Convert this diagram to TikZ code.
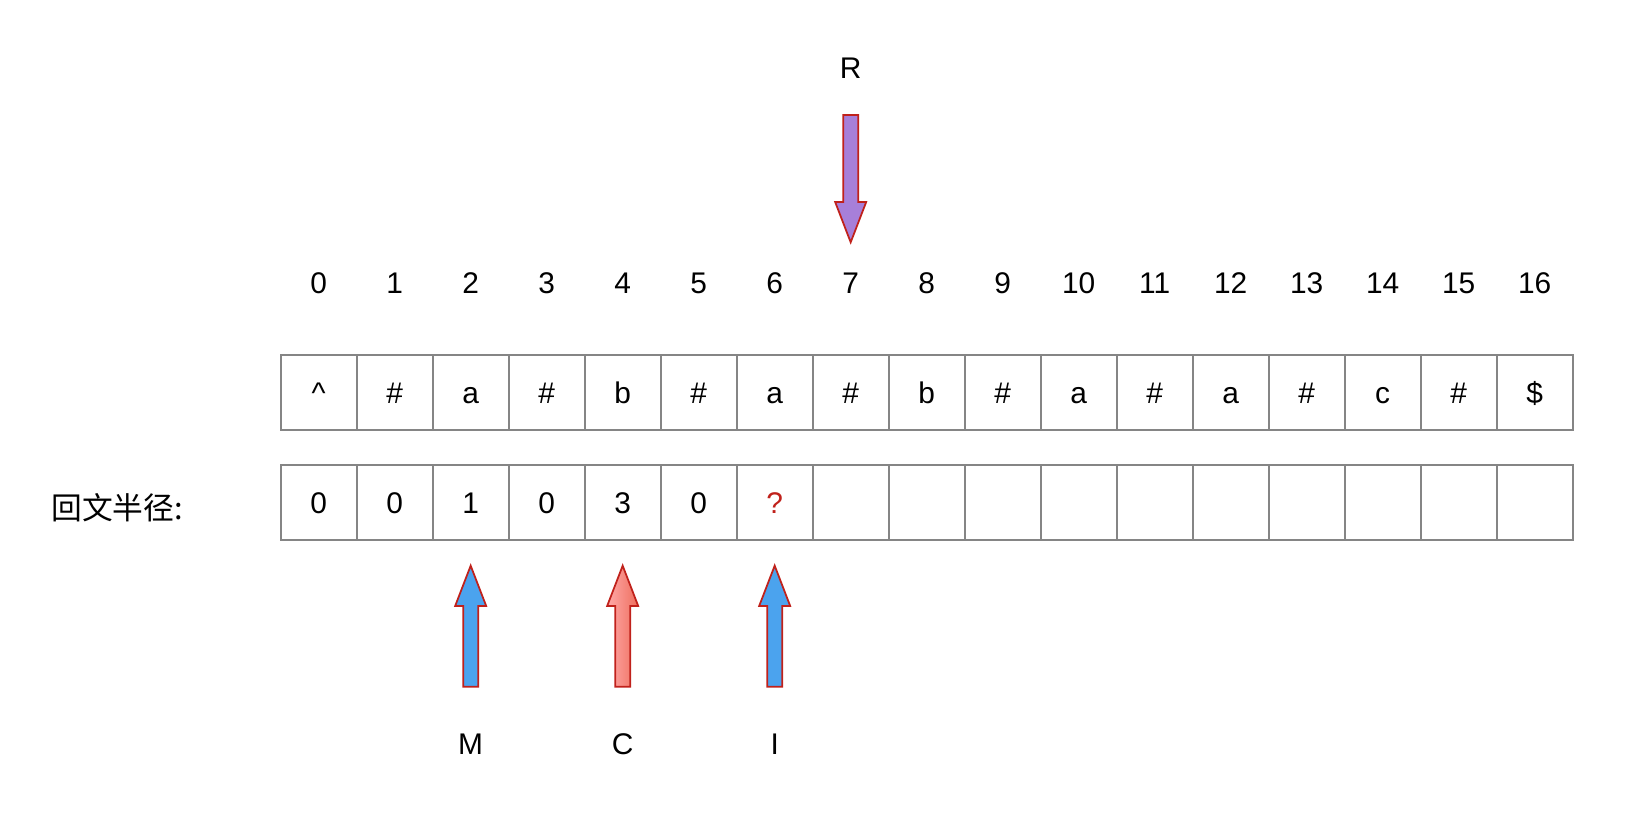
\documentclass[tikz,border=0pt]{standalone}
\usepackage{fontspec}
\setmainfont{Liberation Sans}
\newfontfamily\cjk{Noto Sans CJK SC}
\usetikzlibrary{positioning}
\definecolor{cellgray}{HTML}{858585}
\definecolor{arrowred}{HTML}{C0211B}
\definecolor{ptrblue}{HTML}{4BA3EE}
\definecolor{ptrpurple}{HTML}{A77FD9}
\tikzset{
  cell/.style={draw=cellgray, line width=1.2pt, minimum width=1.52cm, minimum height=1.5cm, inner sep=0pt},
  lbl/.style={font=\fontsize{17}{20}\selectfont, text height=12.2pt, text depth=0pt},
  pics/blockarrow/.style={code={
    \path[pic actions] (-0.099,-#1) -- (0.099,-#1) -- (0.099,-0.53) -- (0.204,-0.53)
      -- (0,0) -- (-0.204,-0.53) -- (-0.099,-0.53) -- cycle;
  }}
}

\begin{document}
\begin{tikzpicture}[x=1.52cm,y=1.52cm]
\useasboundingbox (-3.693,4.668) rectangle (17.833,-6.2);
% string with sentinels, and its indices
\foreach \ch [count=\i from 0] in {\^{},\#,a,\#,b,\#,a,\#,b,\#,a,\#,a,\#,c,\#,\$}{
  \node[lbl] (idx\i) at (\i+0.5,0.947) {\i};
  \node[cell,lbl] (t\i) at (\i+0.5,-0.494) {\ch};
}
% radius row
\foreach \p [count=\i from 0] in {0,0,1,0,3,0,{\textcolor{arrowred}{?}},,,,,,,,,,}{
  \node[cell,lbl] (r\i) at (\i+0.5,-1.949) {\p};
}
\node[anchor=west,font=\cjk\fontsize{17.5}{21}\selectfont] (rad) at (-3.1,-2.018) {回文半径:};
% pointers
\node[lbl] (R) at (7.5,3.776) {R};
\pic[draw=arrowred, line width=1pt, fill=ptrpurple, rotate=180] at (7.5,1.48) {blockarrow=1.675};
\pic[draw=arrowred, line width=1pt, fill=ptrblue] at (2.5,-2.775) {blockarrow=1.592};
\pic[draw=arrowred, line width=1pt, left color=red!35!white!90!pink, right color=red!55!brown!60!pink] at (4.5,-2.775) {blockarrow=1.592};
\pic[draw=arrowred, line width=1pt, fill=ptrblue] at (6.5,-2.775) {blockarrow=1.592};
\node[lbl] (M) at (2.5,-5.112) {M};
\node[lbl] (C) at (4.5,-5.112) {C};
\node[lbl] (I) at (6.5,-5.112) {I};
\end{tikzpicture}
\end{document}
